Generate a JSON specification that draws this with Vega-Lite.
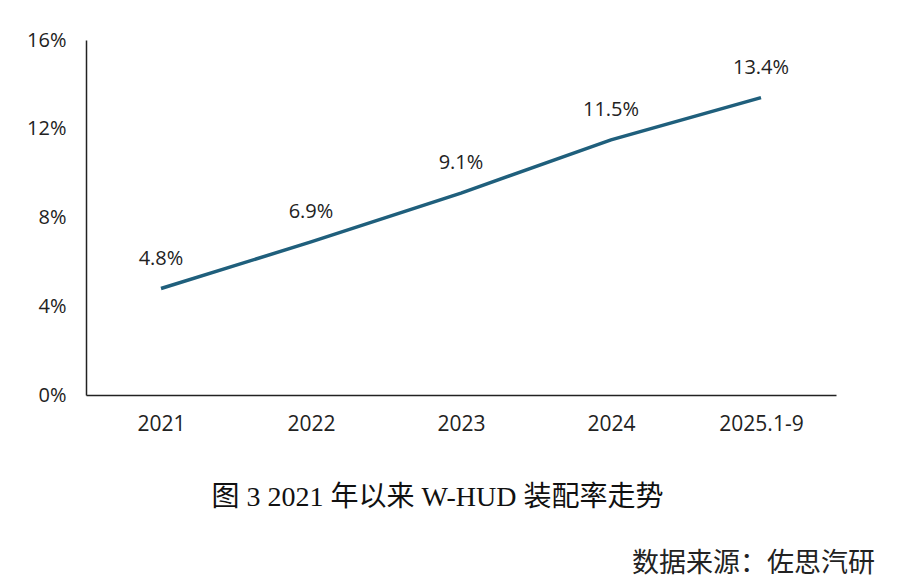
{
  "$schema": "https://vega.github.io/schema/vega-lite/v6.json",
  "width": 750,
  "height": 355,
  "autosize": {"type": "none"},
  "padding": {"left": 86, "top": 40, "right": 61, "bottom": 190},
  "background": "white",
  "data": {"values": [
    {"year": "2021", "rate": 0.048},
    {"year": "2022", "rate": 0.069},
    {"year": "2023", "rate": 0.091},
    {"year": "2024", "rate": 0.115},
    {"year": "2025.1-9", "rate": 0.134}
  ]},
  "title": {
    "text": "数据来源：佐思汽研",
    "orient": "bottom",
    "anchor": "end",
    "frame": "group",
    "dx": 39,
    "offset": 40,
    "font": "Noto Sans CJK SC",
    "fontSize": 27,
    "fontWeight": "normal",
    "color": "#222222"
  },
  "config": {
    "view": {"stroke": null},
    "font": "Open Sans"
  },
  "encoding": {
    "x": {
      "field": "year", "type": "ordinal", "sort": null,
      "scale": {"type": "point", "padding": 0.5},
      "axis": {
        "title": "图 3 2021 年以来 W-HUD 装配率走势",
        "titleFont": "Liberation Serif, Noto Sans CJK SC",
        "titleFontSize": 28,
        "titleFontWeight": "normal",
        "titleColor": "#111111",
        "titleX": 351,
        "titleY": 102,
        "titleBaseline": "middle",
        "labelAngle": 0,
        "labelFontSize": 21,
        "labelColor": "#222222",
        "labelPadding": 18,
        "ticks": false,
        "grid": false,
        "domainColor": "#222222",
        "domainWidth": 1.5
      }
    },
    "y": {
      "field": "rate", "type": "quantitative",
      "scale": {"domain": [0, 0.16]},
      "axis": {
        "title": null,
        "values": [0, 0.04, 0.08, 0.12, 0.16],
        "format": ".0%",
        "labelFontSize": 20,
        "labelColor": "#222222",
        "labelPadding": 20,
        "ticks": false,
        "grid": false,
        "domainColor": "#222222",
        "domainWidth": 1.5
      }
    }
  },
  "layer": [
    {"mark": {"type": "line", "color": "#1f5f7c", "strokeWidth": 3.5}},
    {
      "mark": {"type": "text", "dy": -30, "fontSize": 20, "color": "#222222", "font": "Open Sans"},
      "encoding": {"text": {"field": "rate", "type": "quantitative", "format": ".1%"}}
    }
  ]
}
